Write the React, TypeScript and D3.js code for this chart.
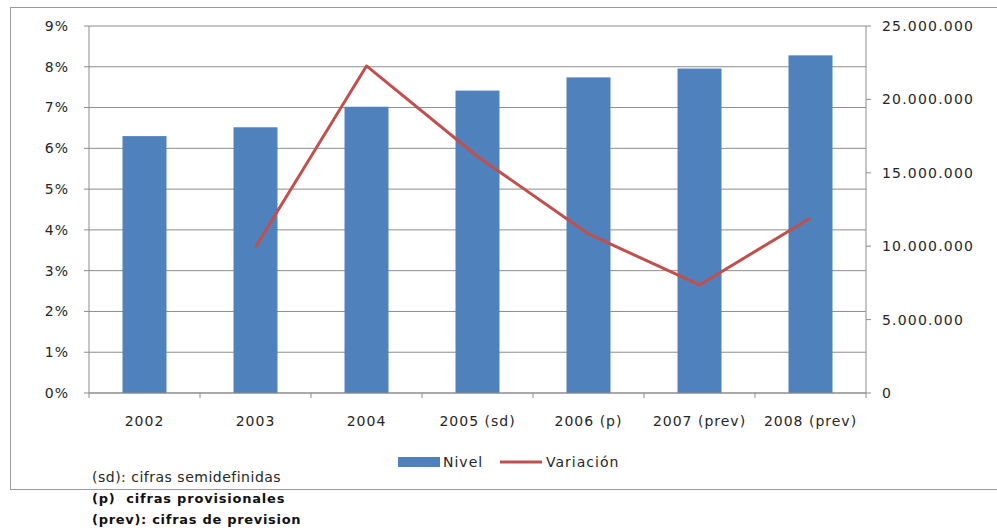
import * as d3 from 'd3';

const categories = ['2002', '2003', '2004', '2005 (sd)', '2006 (p)', '2007 (prev)', '2008 (prev)'];
// Nivel (right axis)
const nivel = [17500000, 18100000, 19500000, 20600000, 21500000, 22100000, 23000000];
// Variación (left axis, %)
const variacion: (number | null)[] = [null, 3.58, 8.02, 5.8, 3.9, 2.65, 4.29];
const leftTicks = [0, 1, 2, 3, 4, 5, 6, 7, 8, 9];
const rightTicks = [0, 5000000, 10000000, 15000000, 20000000, 25000000];
const notes = ['(sd): cifras semidefinidas', '(p)  cifras provisionales', '(prev): cifras de prevision'];

const W = 997;
const H = 531;
const plot = { left: 89, right: 866, top: 26, bottom: 393 };
const font = '"DejaVu Sans", Verdana, sans-serif';
const textColor = '#262626';

export default function App() {
  const x = d3.scaleBand<string>().domain(categories).range([plot.left, plot.right]);
  const yLeft = d3.scaleLinear().domain([0, 9]).range([plot.bottom, plot.top]);
  const yRight = d3.scaleLinear().domain([0, 25000000]).range([plot.bottom, plot.top]);
  const barW = 44;

  const fmtRight = (v: number) => (v === 0 ? '0' : d3.format(',')(v).replace(/,/g, '.'));

  const pts = categories
    .map((c, i) => ({ c, v: variacion[i] }))
    .filter((d) => d.v !== null) as { c: string; v: number }[];
  const line = d3
    .line<{ c: string; v: number }>()
    .x((d) => (x(d.c) as number) + x.bandwidth() / 2)
    .y((d) => yLeft(d.v));

  // note styles: first line is the chart's own text, the others were pasted below in bold
  const noteSpacing = [0.5, 0.8, 0.7];

  return (
    <svg
      width={W}
      height={H}
      style={{ position: 'absolute', left: 0, top: 0, background: '#fff' }}
      fontFamily={font}
    >
      <rect x={10.5} y={7.5} width={W + 10} height={482} fill="#fff" stroke="#9a9a9a" />

      {/* gridlines */}
      {leftTicks.map((t) => (
        <line key={'g' + t} x1={plot.left} x2={plot.right} y1={yLeft(t)} y2={yLeft(t)} stroke="#8c8c8c" strokeWidth={1} />
      ))}

      {/* bars */}
      {categories.map((c, i) => (
        <rect
          key={c}
          x={(x(c) as number) + x.bandwidth() / 2 - barW / 2}
          y={yRight(nivel[i])}
          width={barW}
          height={plot.bottom - yRight(nivel[i])}
          fill="#4F81BD"
        />
      ))}

      {/* line */}
      <path d={line(pts) || ''} fill="none" stroke="#C0504D" strokeWidth={3} strokeLinejoin="round" />

      {/* axes */}
      <line x1={plot.left} x2={plot.left} y1={plot.top} y2={plot.bottom} stroke="#8c8c8c" />
      <line x1={plot.right} x2={plot.right} y1={plot.top} y2={plot.bottom} stroke="#8c8c8c" />
      <line x1={plot.left} x2={plot.right} y1={plot.bottom} y2={plot.bottom} stroke="#8c8c8c" />

      {leftTicks.map((t) => (
        <g key={'l' + t}>
          <line x1={plot.left - 5} x2={plot.left} y1={yLeft(t)} y2={yLeft(t)} stroke="#8c8c8c" />
          <text x={plot.left - 20} y={yLeft(t)} dy="0.35em" textAnchor="end" fontSize={14} letterSpacing={1} fill={textColor}>
            {t}%
          </text>
        </g>
      ))}

      {rightTicks.map((t) => (
        <g key={'r' + t}>
          <line x1={plot.right} x2={plot.right + 5} y1={yRight(t)} y2={yRight(t)} stroke="#8c8c8c" />
          <text x={plot.right + 16} y={yRight(t)} dy="0.35em" textAnchor="start" fontSize={14} letterSpacing={1.2} fill={textColor}>
            {fmtRight(t)}
          </text>
        </g>
      ))}

      {categories.map((c, i) => (
        <g key={'x' + c}>
          <line x1={x(c) as number} x2={x(c) as number} y1={plot.bottom} y2={plot.bottom + 5} stroke="#8c8c8c" />
          {i === categories.length - 1 && (
            <line x1={plot.right} x2={plot.right} y1={plot.bottom} y2={plot.bottom + 5} stroke="#8c8c8c" />
          )}
          <text
            x={(x(c) as number) + x.bandwidth() / 2}
            y={421}
            dy="0.35em"
            textAnchor="middle"
            fontSize={14}
            letterSpacing={1}
            fill={textColor}
          >
            {c}
          </text>
        </g>
      ))}

      {/* legend */}
      <rect x={398} y={457} width={42} height={10} fill="#4F81BD" />
      <text x={443} y={462} dy="0.35em" fontSize={14} letterSpacing={1} fill={textColor}>
        Nivel
      </text>
      <line x1={500} x2={542} y1={462} y2={462} stroke="#C0504D" strokeWidth={3} />
      <text x={546} y={462} dy="0.35em" fontSize={14} letterSpacing={1} fill={textColor}>
        Variación
      </text>

      {/* notes */}
      {notes.map((n, i) => (
        <text
          key={n}
          x={92}
          y={477 + i * 21}
          dy="0.35em"
          fontSize={i === 0 ? 14 : 13}
          fontWeight={i === 0 ? 'normal' : 'bold'}
          letterSpacing={noteSpacing[i]}
          fill={i === 0 ? textColor : '#111'}
          xmlSpace="preserve"
        >
          {n}
        </text>
      ))}
    </svg>
  );
}
